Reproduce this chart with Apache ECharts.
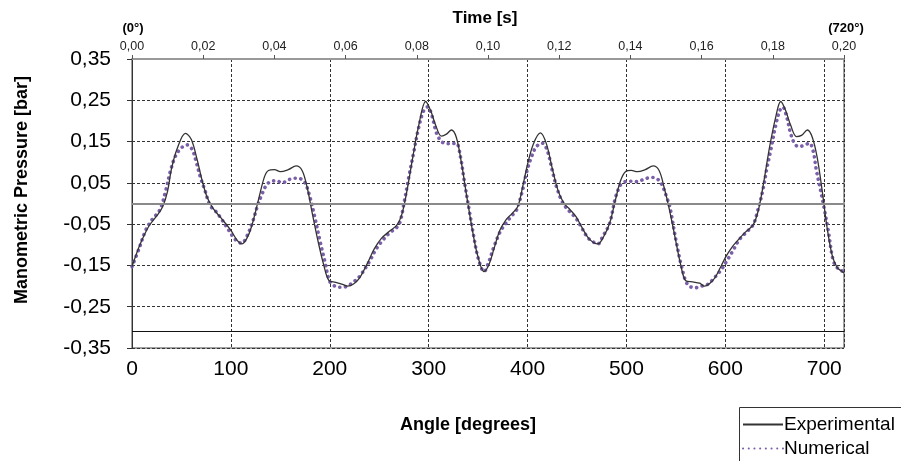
<!DOCTYPE html>
<html>
<head>
<meta charset="utf-8">
<script src="https://cdn.jsdelivr.net/npm/echarts@6/dist/echarts.min.js"></script>
<style>
html,body{margin:0;padding:0;background:#fff;}
#chart{width:901px;height:461px;}
</style>
</head>
<body>
<div id="chart"></div>
<script>
// ---- Data ----
const seriesNames = ['Experimental', 'Numerical'];

const expAngle = [0, 8, 17, 25, 31, 36, 40, 46, 54, 60, 66, 71, 76, 82, 90, 100, 106, 111, 116, 121, 128, 134, 138, 144, 150, 158, 166, 172, 177, 182, 188, 194, 199, 206, 212, 218, 224, 230, 238, 245, 252, 260, 268, 273, 278, 284, 290, 297, 302, 307, 313, 318, 323, 328, 333, 339, 345, 350, 356, 361, 366, 372, 378, 384, 390, 395, 400, 406, 413, 419, 425, 431, 437, 443, 449, 455, 462, 471, 477, 483, 489, 494, 499, 505, 511, 519, 527, 533, 538, 543, 549, 555, 560, 567, 574, 579, 585, 590, 596, 601, 607, 613, 620, 628, 633, 638, 645, 651, 656, 661, 666, 672, 677, 683, 688, 693, 698, 703, 708, 713, 717, 720];
const expPressure = [-0.153, -0.10, -0.055, -0.03, -0.008, 0.03, 0.085, 0.135, 0.17, 0.155, 0.105, 0.055, 0.015, -0.012, -0.035, -0.065, -0.088, -0.098, -0.085, -0.055, 0.01, 0.065, 0.08, 0.082, 0.077, 0.082, 0.091, 0.08, 0.04, -0.02, -0.09, -0.15, -0.186, -0.191, -0.195, -0.2, -0.195, -0.181, -0.145, -0.11, -0.085, -0.068, -0.052, -0.025, 0.03, 0.113, 0.19, 0.247, 0.225, 0.19, 0.163, 0.168, 0.178, 0.16, 0.1, 0.01, -0.075, -0.13, -0.165, -0.148, -0.11, -0.065, -0.04, -0.025, -0.008, 0.04, 0.095, 0.145, 0.171, 0.145, 0.085, 0.03, 0.0, -0.015, -0.032, -0.058, -0.085, -0.098, -0.08, -0.048, 0.01, 0.055, 0.077, 0.08, 0.077, 0.082, 0.091, 0.08, 0.04, -0.01, -0.08, -0.15, -0.187, -0.19, -0.193, -0.2, -0.192, -0.178, -0.15, -0.127, -0.105, -0.088, -0.07, -0.052, -0.02, 0.04, 0.14, 0.21, 0.247, 0.225, 0.19, 0.162, 0.165, 0.178, 0.16, 0.11, 0.03, -0.06, -0.125, -0.155, -0.163, -0.168];

const numAngle = [0, 7, 14, 20, 28, 34, 39, 44, 50, 56, 61, 65, 69, 74, 79, 85, 90, 96, 102, 107, 111, 116, 122, 127, 131, 136, 140, 146, 152, 158, 164, 170, 175, 180, 185, 190, 195, 200, 206, 212, 218, 224, 230, 240, 247, 254, 261, 267, 271, 275, 280, 285, 290, 295, 299, 303, 308, 313, 318, 323, 328, 332, 336, 341, 346, 350, 356, 361, 366, 372, 378, 384, 389, 395, 399, 404, 409, 415, 420, 425, 430, 436, 442, 449, 455, 461, 467, 471, 476, 483, 489, 494, 498, 504, 510, 516, 522, 527, 532, 536, 540, 544, 550, 556, 562, 570, 576, 582, 590, 596, 601, 608, 614, 621, 628, 633, 638, 642, 646, 651, 655, 658, 662, 666, 670, 674, 679, 685, 689, 692, 696, 699, 704, 709, 714, 720];
const numPressure = [-0.153, -0.11, -0.064, -0.04, -0.016, 0.03, 0.08, 0.115, 0.135, 0.142, 0.13, 0.1, 0.065, 0.03, -0.005, -0.02, -0.036, -0.058, -0.08, -0.093, -0.096, -0.08, -0.044, -0.005, 0.02, 0.045, 0.053, 0.055, 0.05, 0.057, 0.061, 0.06, 0.05, 0.015, -0.035, -0.09, -0.14, -0.189, -0.201, -0.203, -0.2, -0.19, -0.177, -0.141, -0.11, -0.088, -0.07, -0.06, -0.045, 0.0, 0.065, 0.125, 0.185, 0.225, 0.234, 0.215, 0.17, 0.15, 0.145, 0.145, 0.146, 0.115, 0.055, -0.016, -0.085, -0.132, -0.165, -0.14, -0.105, -0.07, -0.048, -0.03, -0.015, 0.033, 0.075, 0.113, 0.138, 0.146, 0.128, 0.08, 0.035, 0.0, -0.018, -0.036, -0.06, -0.083, -0.094, -0.098, -0.08, -0.048, 0.015, 0.045, 0.052, 0.054, 0.053, 0.057, 0.062, 0.063, 0.058, 0.045, 0.02, -0.01, -0.088, -0.155, -0.197, -0.204, -0.2, -0.196, -0.177, -0.16, -0.141, -0.113, -0.088, -0.07, -0.052, -0.015, 0.033, 0.085, 0.13, 0.19, 0.225, 0.234, 0.21, 0.17, 0.145, 0.138, 0.14, 0.146, 0.125, 0.081, 0.035, 0.0, -0.064, -0.137, -0.158, -0.165];

// Axis tick labels
const pressureTicks = [-0.35, -0.25, -0.15, -0.05, 0.05, 0.15, 0.25, 0.35];
const timeTicks = [0.00, 0.02, 0.04, 0.06, 0.08, 0.10, 0.12, 0.14, 0.16, 0.18, 0.20];
// Reference horizontal lines drawn in the plot
const refLineValues = [0, -0.308];

// ---- Build ----
const zip = (a, b) => a.map((x, i) => [x, b[i]]);
const comma = (v, d) => v.toFixed(d).replace('.', ',');
const FONT = '"Liberation Sans", Arial, sans-serif';

const chart = echarts.init(document.getElementById('chart'), null, {renderer: 'canvas'});
chart.setOption({
  animation: false,
  backgroundColor: '#fff',
  grid: {left: 132, right: 57, top: 59, bottom: 113, show: true, borderColor: '#444', borderWidth: 1},
  xAxis: [
    {
      type: 'value', position: 'bottom', min: 0, max: 720, interval: 100,
      axisLine: {show: true, lineStyle: {color: '#999', width: 2}},
      axisTick: {show: false},
      axisLabel: {fontFamily: FONT, fontSize: 21, color: '#000', margin: 11, showMaxLabel: false},
      splitLine: {show: true, lineStyle: {color: '#333', type: [3, 2], width: 1}}
    },
    {
      type: 'value', position: 'top', min: 0, max: 0.2, interval: 0.02,
      axisLine: {show: true, onZero: false, lineStyle: {color: '#999', width: 2}},
      axisTick: {show: true, length: 4, lineStyle: {color: '#555'}},
      axisLabel: {fontFamily: FONT, fontSize: 12.5, color: '#222', margin: 6, formatter: v => comma(v, 2),
                  customValues: timeTicks},
      splitLine: {show: false}
    }
  ],
  yAxis: {
    type: 'value', min: -0.35, max: 0.35,
    axisLine: {show: true, lineStyle: {color: '#333', width: 1}},
    axisTick: {show: true, length: 5, lineStyle: {color: '#333'}, customValues: pressureTicks},
    axisLabel: {fontFamily: FONT, fontSize: 21, color: '#000', margin: 21, formatter: v => comma(v, 2),
                customValues: pressureTicks},
    splitLine: {show: true, lineStyle: {color: '#333', type: [3, 2], width: 1}}
  },
  legend: {
    orient: 'vertical', left: 742, top: 415, padding: 0, itemGap: 5, itemWidth: 40, itemHeight: 14,
    itemStyle: {opacity: 0},
    textStyle: {fontFamily: FONT, fontSize: 19, color: '#000', padding: [0, 0, 0, -4]},
    data: seriesNames
  },
  graphic: [
    {type: 'rect', shape: {x: 739.5, y: 407.5, width: 170, height: 60}, style: {fill: 'none', stroke: '#333', lineWidth: 1}, z: 100},
    {type: 'text', x: 485, y: 18, style: {text: 'Time [s]', font: 'bold 17px ' + FONT, fill: '#000', align: 'center', verticalAlign: 'middle'}},
    {type: 'text', x: 133, y: 28, style: {text: '(0°)', font: 'bold 13px ' + FONT, fill: '#000', align: 'center', verticalAlign: 'middle'}},
    {type: 'text', x: 846, y: 28, style: {text: '(720°)', font: 'bold 13px ' + FONT, fill: '#000', align: 'center', verticalAlign: 'middle'}},
    {type: 'text', x: 468, y: 425, style: {text: 'Angle [degrees]', font: 'bold 18px ' + FONT, fill: '#000', align: 'center', verticalAlign: 'middle'}},
    {type: 'text', x: 22, y: 190, rotation: Math.PI / 2, style: {text: 'Manometric Pressure [bar]', font: 'bold 18px ' + FONT, fill: '#000', align: 'center', verticalAlign: 'middle'}}
  ],
  series: [
    {
      name: seriesNames[0], type: 'line', xAxisIndex: 0, smooth: 0.35, symbol: 'none',
      data: zip(expAngle, expPressure),
      lineStyle: {color: '#333', width: 1.3},
      itemStyle: {color: '#333'},
      z: 3,
      markLine: {
        silent: true, symbol: 'none', label: {show: false},
        data: [
          {yAxis: refLineValues[0], lineStyle: {color: '#8a8a8a', width: 2, type: 'solid'}},
          {yAxis: refLineValues[1], lineStyle: {color: '#111', width: 1.2, type: 'solid'}}
        ]
      }
    },
    {
      name: seriesNames[1], type: 'line', xAxisIndex: 0, smooth: 0.35, symbol: 'none',
      data: zip(numAngle, numPressure),
      lineStyle: {color: '#7a5ea8', width: 3.6, type: [0.1, 5.6], cap: 'round'},
      itemStyle: {color: '#7a5ea8'},
      z: 2
    }
  ]
});
</script>
</body>
</html>
